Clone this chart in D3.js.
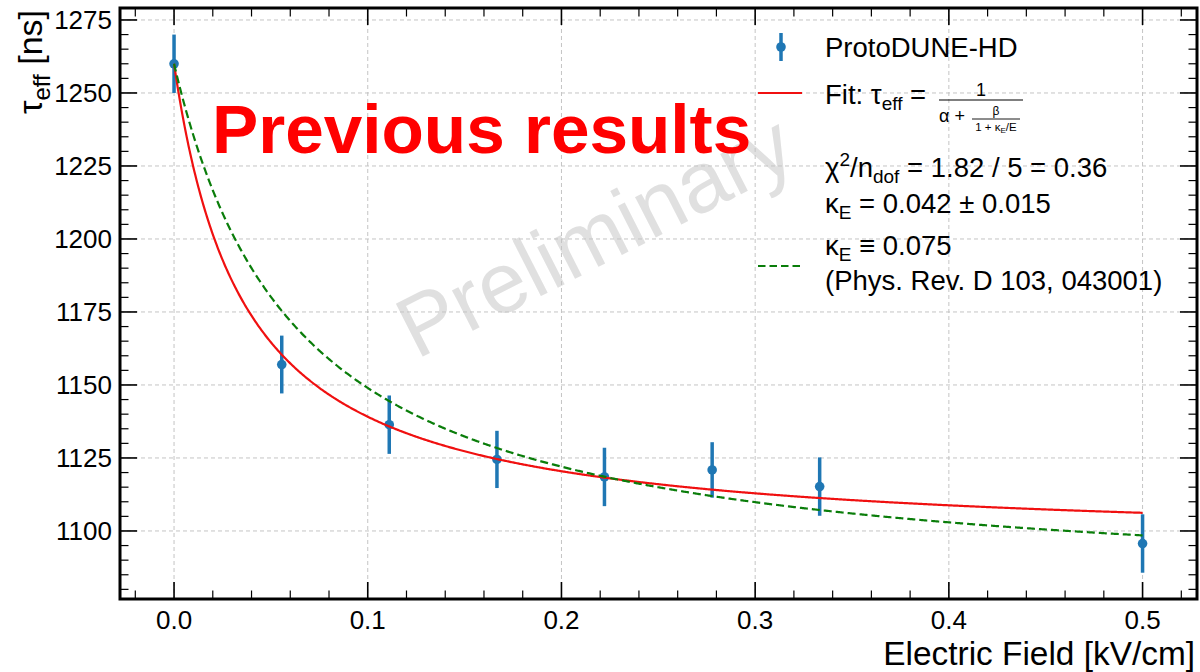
<!DOCTYPE html>
<html>
<head>
<meta charset="utf-8">
<script src="https://cdn.jsdelivr.net/npm/d3@7"></script>
<style>
  body { margin: 0; background: #fff; }
  svg { display: block; }
  text { font-family: "Liberation Sans", Arial, Helvetica, sans-serif; fill: #000; }
</style>
</head>
<body>
<svg id="chart" width="1200" height="672"></svg>
<script>
// Measured effective lifetime versus drift field
const fieldKVcm = [0.0, 0.0556, 0.1111, 0.1667, 0.2222, 0.2778, 0.3333, 0.5];
const tauEff    = [1260.0, 1157.0, 1136.4, 1124.5, 1118.5, 1120.9, 1115.2, 1095.7];
const tauErr    = [10.0, 9.9, 10.0, 9.8, 10.0, 9.5, 10.0, 10.0];

// Axis ticks and limits
const xTicks = [0.0, 0.1, 0.2, 0.3, 0.4, 0.5];
const xTickLabels = ["0.0", "0.1", "0.2", "0.3", "0.4", "0.5"];
const yTicks = [1100, 1125, 1150, 1175, 1200, 1225, 1250, 1275];
const yTickLabels = ["1100", "1125", "1150", "1175", "1200", "1225", "1250", "1275"];
const xLimits = [-0.0279, 0.5281];
const yLimits = [1076.7, 1279.1];

// Model tau = 1 / (alpha + beta / (1 + kappa/E))
const fitAlpha = 1 / 1260, fitBeta = 1.196e-4, fitKappa = 0.042;
const refAlpha = 1 / 1260, refBeta = 1.342e-4, refKappa = 0.075;

const plot = { left: 120, right: 1197, top: 8, bottom: 599 };
const LEG = 27.5;   // legend font size
const SUB = 19;     // legend sub/superscript size

const svg = d3.select("#chart");
const x = d3.scaleLinear().domain(xLimits).range([plot.left, plot.right]);
const y = d3.scaleLinear().domain(yLimits).range([plot.bottom, plot.top]);

svg.append("defs").append("clipPath").attr("id", "plotClip")
  .append("rect").attr("x", plot.left).attr("y", plot.top)
  .attr("width", plot.right - plot.left).attr("height", plot.bottom - plot.top);

// Watermark
svg.append("text")
  .attr("transform", "translate(608,262) rotate(-27)")
  .attr("text-anchor", "middle")
  .style("font-size", "86px")
  .style("fill", "#e0e0e0")
  .text("Preliminary");

// Grid
const grid = svg.append("g").attr("clip-path", "url(#plotClip)")
  .attr("stroke", "#c4c4c4").attr("stroke-width", 1).attr("stroke-dasharray", "4,3");
grid.selectAll("line.gx").data(xTicks).join("line")
  .attr("x1", d => x(d)).attr("x2", d => x(d)).attr("y1", plot.top).attr("y2", plot.bottom);
grid.selectAll("line.gy").data(yTicks).join("line")
  .attr("y1", d => y(d)).attr("y2", d => y(d)).attr("x1", plot.left).attr("x2", plot.right);

// Data with error bars
const dataG = svg.append("g").attr("clip-path", "url(#plotClip)");
const pts = fieldKVcm.map((e, i) => ({ e, t: tauEff[i], s: tauErr[i] }));
dataG.selectAll("line.err").data(pts).join("line")
  .attr("x1", d => x(d.e)).attr("x2", d => x(d.e))
  .attr("y1", d => y(d.t - d.s)).attr("y2", d => y(d.t + d.s))
  .attr("stroke", "#1f77b4").attr("stroke-width", 3.5);
dataG.selectAll("circle").data(pts).join("circle")
  .attr("cx", d => x(d.e)).attr("cy", d => y(d.t)).attr("r", 4.8)
  .attr("fill", "#1f77b4");

// Model curves
function model(a, b, k) {
  return E => (E <= 0 ? 1 / a : 1 / (a + b / (1 + k / E)));
}
const eGrid = d3.range(0, 0.5 + 1e-9, 0.0005);
const line = d3.line().x(d => x(d[0])).y(d => y(d[1]));
const fitFn = model(fitAlpha, fitBeta, fitKappa);
const refFn = model(refAlpha, refBeta, refKappa);
dataG.append("path").datum(eGrid.map(E => [E, fitFn(E)])).attr("d", line)
  .attr("fill", "none").attr("stroke", "#f01010").attr("stroke-width", 2.2);
dataG.append("path").datum(eGrid.map(E => [E, refFn(E)])).attr("d", line)
  .attr("fill", "none").attr("stroke", "#0a7d0a").attr("stroke-width", 2.2)
  .attr("stroke-dasharray", "8,4");

// Axes: inward ticks on all four sides
const axG = svg.append("g").attr("stroke", "#000");
const xMinor = d3.range(-0.02, 0.5201, 0.02).filter(v => Math.abs(v * 10 - Math.round(v * 10)) > 1e-6);
const yMinor = d3.range(1080, 1279, 5).filter(v => v % 25 !== 0);
const MAJ = 17, MIN = 8.5;
function vticks(vals, len, sw) {
  axG.selectAll(null).data(vals).join("line")
    .attr("x1", d => x(d)).attr("x2", d => x(d))
    .attr("y1", plot.bottom).attr("y2", plot.bottom - len).attr("stroke-width", sw);
  axG.selectAll(null).data(vals).join("line")
    .attr("x1", d => x(d)).attr("x2", d => x(d))
    .attr("y1", plot.top).attr("y2", plot.top + len).attr("stroke-width", sw);
}
function hticks(vals, len, sw) {
  axG.selectAll(null).data(vals).join("line")
    .attr("y1", d => y(d)).attr("y2", d => y(d))
    .attr("x1", plot.left).attr("x2", plot.left + len).attr("stroke-width", sw);
  axG.selectAll(null).data(vals).join("line")
    .attr("y1", d => y(d)).attr("y2", d => y(d))
    .attr("x1", plot.right).attr("x2", plot.right - len).attr("stroke-width", sw);
}
vticks(xTicks, MAJ, 1.6); vticks(xMinor, MIN, 1.2);
hticks(yTicks, MAJ, 1.6); hticks(yMinor, MIN, 1.2);
svg.append("rect").attr("x", plot.left).attr("y", plot.top)
  .attr("width", plot.right - plot.left).attr("height", plot.bottom - plot.top)
  .attr("fill", "none").attr("stroke", "#000").attr("stroke-width", 3);

// Tick labels
svg.append("g").selectAll("text").data(xTicks).join("text")
  .attr("x", d => x(d)).attr("y", 629).attr("text-anchor", "middle")
  .style("font-size", "26px").text((d, i) => xTickLabels[i]);
svg.append("g").selectAll("text").data(yTicks).join("text")
  .attr("x", 112).attr("y", d => y(d) + 9.5).attr("text-anchor", "end")
  .style("font-size", "26px").text((d, i) => yTickLabels[i]);

// Axis titles
svg.append("text").attr("x", 1195).attr("y", 665).attr("text-anchor", "end")
  .style("font-size", "33.4px").text("Electric Field [kV/cm]");
const yl = svg.append("text").attr("transform", "translate(42,10) rotate(-90)")
  .attr("text-anchor", "end").style("font-size", "34px");
yl.append("tspan").text("τ");
yl.append("tspan").attr("dy", 8).style("font-size", "24px").text("eff");
yl.append("tspan").attr("dy", -8).text(" [ns]");

// Legend
const lg = svg.append("g");
lg.append("line").attr("x1", 781).attr("x2", 781).attr("y1", 33).attr("y2", 61)
  .attr("stroke", "#1f77b4").attr("stroke-width", 3.5);
lg.append("circle").attr("cx", 781).attr("cy", 47).attr("r", 4.8).attr("fill", "#1f77b4");
lg.append("text").attr("x", 825).attr("y", 57).style("font-size", LEG + "px").text("ProtoDUNE-HD");

lg.append("line").attr("x1", 758).attr("x2", 802).attr("y1", 93).attr("y2", 93)
  .attr("stroke", "#f01010").attr("stroke-width", 2.2);
const fitT = lg.append("text").attr("x", 825).attr("y", 104).style("font-size", LEG + "px");
fitT.append("tspan").text("Fit: τ");
fitT.append("tspan").attr("dy", 6).style("font-size", SUB + "px").text("eff");
fitT.append("tspan").attr("dy", -6).text(" =");
// fraction 1 / (alpha + beta/(1+kE/E))
lg.append("text").attr("x", 981).attr("y", 96).attr("text-anchor", "middle")
  .style("font-size", "18px").text("1");
lg.append("line").attr("x1", 939).attr("x2", 1023).attr("y1", 100).attr("y2", 100)
  .attr("stroke", "#000").attr("stroke-width", 1.2);
lg.append("text").attr("x", 939).attr("y", 122).style("font-size", "18px").text("α +");
lg.append("text").attr("x", 996).attr("y", 115).attr("text-anchor", "middle")
  .style("font-size", "12px").text("β");
lg.append("line").attr("x1", 972).attr("x2", 1020).attr("y1", 119).attr("y2", 119)
  .attr("stroke", "#000").attr("stroke-width", 0.9);
const kt = lg.append("text").attr("x", 996).attr("y", 131).attr("text-anchor", "middle")
  .style("font-size", "11.5px");
kt.append("tspan").text("1 + κ");
kt.append("tspan").attr("dy", 2).style("font-size", "8px").text("E");
kt.append("tspan").attr("dy", -2).text("/E");

const chi = lg.append("text").attr("x", 825).attr("y", 177).style("font-size", LEG + "px");
chi.append("tspan").text("χ");
chi.append("tspan").attr("dy", -11).style("font-size", SUB + "px").text("2");
chi.append("tspan").attr("dy", 11).text("/n");
chi.append("tspan").attr("dy", 6).style("font-size", SUB + "px").text("dof");
chi.append("tspan").attr("dy", -6).text(" = 1.82 / 5 = 0.36");

const kap = lg.append("text").attr("x", 825).attr("y", 213).style("font-size", LEG + "px");
kap.append("tspan").text("κ");
kap.append("tspan").attr("dy", 6).style("font-size", SUB + "px").text("E");
kap.append("tspan").attr("dy", -6).text(" = 0.042 ± 0.015");

lg.append("line").attr("x1", 758).attr("x2", 802).attr("y1", 266).attr("y2", 266)
  .attr("stroke", "#0a7d0a").attr("stroke-width", 2.2).attr("stroke-dasharray", "7.5,4");
const kr = lg.append("text").attr("x", 825).attr("y", 255).style("font-size", LEG + "px");
kr.append("tspan").text("κ");
kr.append("tspan").attr("dy", 6).style("font-size", SUB + "px").text("E");
kr.append("tspan").attr("dy", -6).text(" ≡ 0.075");
lg.append("text").attr("x", 825).attr("y", 290).style("font-size", LEG + "px")
  .text("(Phys. Rev. D 103, 043001)");

// Overlay note
svg.append("text").attr("x", 212).attr("y", 153)
  .style("font-size", "69.3px").style("font-weight", "bold").style("fill", "#ff0000")
  .text("Previous results");
</script>
</body>
</html>
